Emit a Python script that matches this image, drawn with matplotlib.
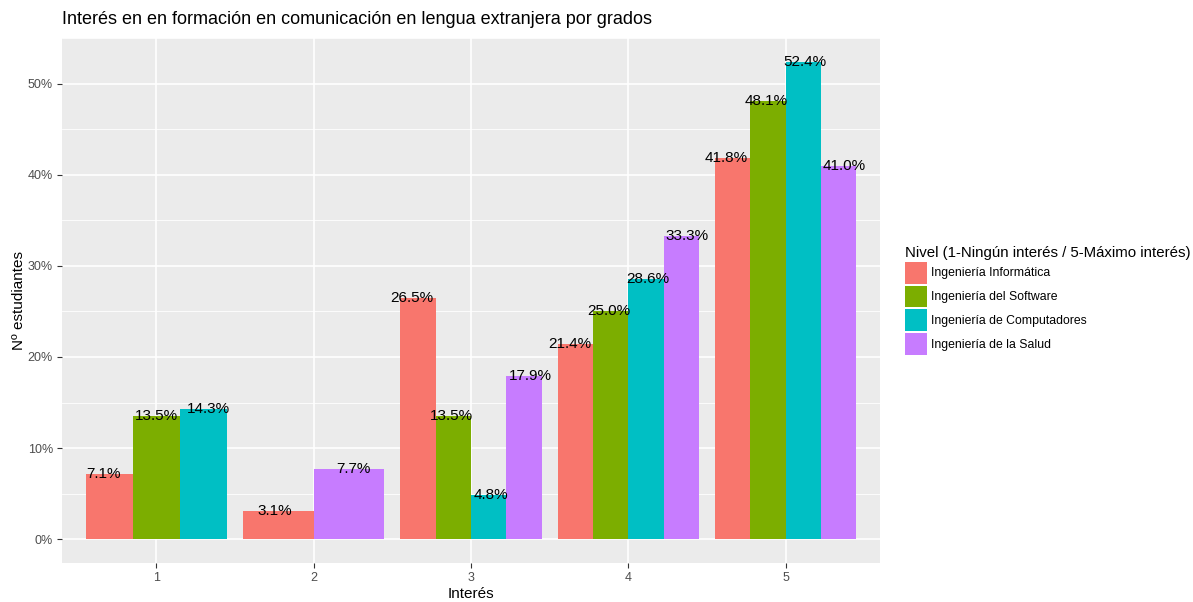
import numpy as np
import matplotlib
matplotlib.use("Agg")
import matplotlib.pyplot as plt
from matplotlib.patches import Patch
from matplotlib.ticker import MultipleLocator, PercentFormatter

plt.rcParams['font.family'] = ['Liberation Sans', 'DejaVu Sans']

# data (percent of students); None = no bar
niveles = [1, 2, 3, 4, 5]
grados = ["Ingeniería Informática", "Ingeniería del Software",
          "Ingeniería de Computadores", "Ingeniería de la Salud"]
informatica = [7.1, 3.1, 26.5, 21.4, 41.8]
software = [13.5, None, 13.5, 25.0, 48.1]
computadores = [14.3, None, 4.8, 28.6, 52.4]
salud = [None, 7.7, 17.9, 33.3, 41.0]
colores = ["#F8766D", "#7CAE00", "#00BFC4", "#C77CFF"]

series = [informatica, software, computadores, salud]

fig = plt.figure(figsize=(11.93, 6.02), dpi=100)
ax = fig.add_axes([62/1193, 39/602, 818/1193, 525/602])
ax.set_facecolor("#EBEBEB")

# ggplot style dodge: bars share 0.9 of the slot, labels dodge over width 1
for k, nivel in enumerate(niveles):
    presentes = [i for i, s in enumerate(series) if s[k] is not None]
    n = len(presentes)
    for j, i in enumerate(presentes):
        v = series[i][k] / 100
        off = (j - (n - 1) / 2)
        ax.bar(nivel + off * 0.9 / n, v, width=0.9 / n, color=colores[i], zorder=2)
        ax.text(nivel + off * 1.0 / n, v, "%.1f%%" % series[i][k], ha="center",
                va="center", fontsize=11, color="black", zorder=3)

ax.set_xlim(0.4, 5.6)
ax.set_ylim(-0.0262, 0.5502)
ax.set_xticks(niveles)
ax.yaxis.set_major_locator(MultipleLocator(0.1))
ax.yaxis.set_minor_locator(MultipleLocator(0.05))
ax.yaxis.set_major_formatter(PercentFormatter(1.0, decimals=0))
ax.grid(which="major", color="white", linewidth=1.2, zorder=0)
ax.grid(which="minor", axis="y", color="white", linewidth=0.6, zorder=0)
ax.set_axisbelow(True)
for s in ax.spines.values():
    s.set_visible(False)
ax.tick_params(which="major", length=3.5, width=0.8, color="#333333",
               labelcolor="#4D4D4D", labelsize=9, pad=3)
ax.tick_params(which="minor", length=0)

ax.set_xlabel("Interés", fontsize=11, labelpad=2)
ax.set_ylabel("Nº estudiantes", fontsize=11, labelpad=1)
fig.text(62/1193, 1 - 20/602, "Interés en en formación en comunicación en lengua extranjera por grados",
         fontsize=13, ha="left", va="center")

handles = [Patch(facecolor=c, edgecolor="none") for c in colores]
leg = ax.legend(handles, grados, title="Nivel (1-Ningún interés / 5-Máximo interés)",
                loc="center left", bbox_to_anchor=(1.017, 0.5), frameon=False,
                fontsize=8.8, title_fontsize=10.8, handlelength=1.8, handleheight=2.39,
                handletextpad=0.3, labelspacing=0.16, alignment="left")

fig.savefig("out.png", dpi=100)
